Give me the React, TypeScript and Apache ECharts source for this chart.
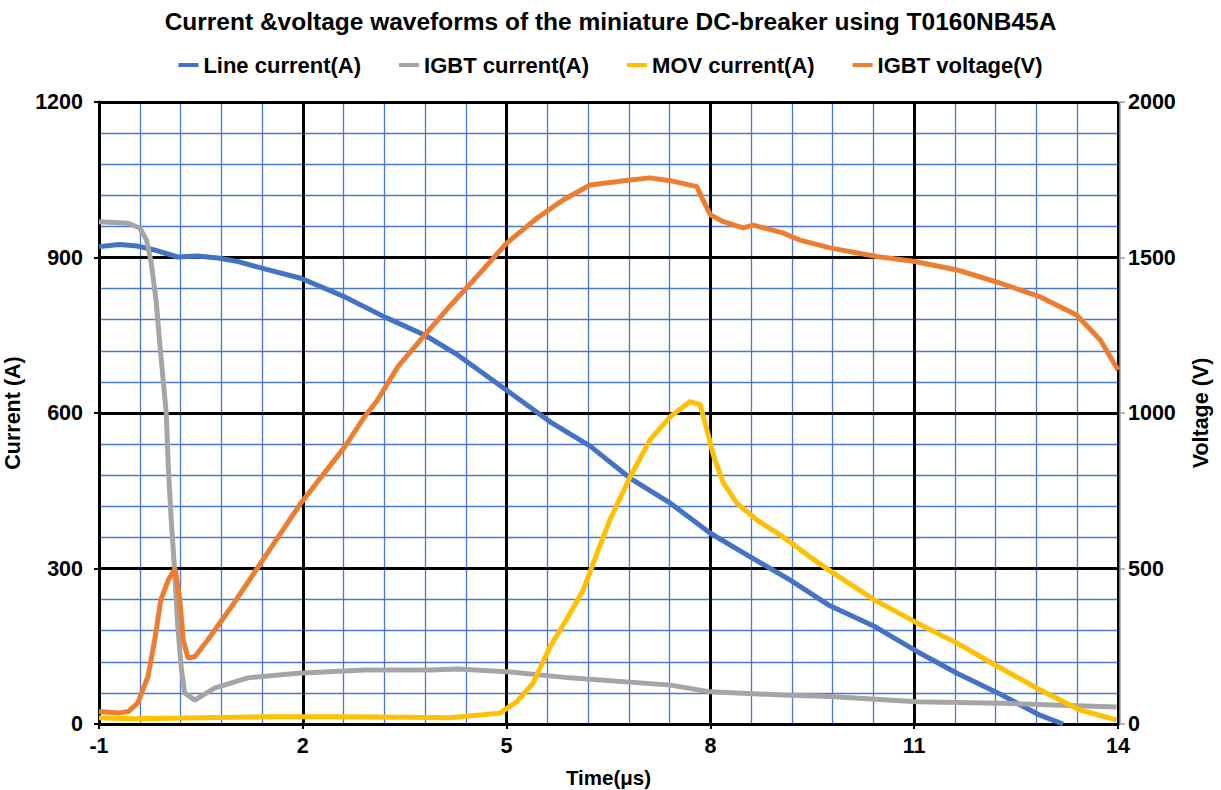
import React, { useEffect, useRef } from "react";
import * as echarts from "echarts";

const titleText = "Current &voltage waveforms of the miniature DC-breaker using T0160NB45A";
const seriesNames = ["Line current(A)", "IGBT current(A)", "MOV current(A)", "IGBT voltage(V)"];

const lineTime = [-1, -0.7, -0.43, -0.2, 0.16, 0.45, 0.75, 1.05, 1.38, 1.97, 2.62, 3.21, 3.8, 4.28, 5.0, 5.64, 6.23, 6.82, 7.41, 8.0, 8.58, 9.17, 9.76, 10.42, 11.04, 11.63, 12.23, 12.85, 13.19];
const lineCurrent = [921, 925, 922, 915, 901, 903, 899, 892, 880, 860, 824, 785, 750, 712, 644, 583, 536, 474, 426, 368, 323, 278, 228, 188, 140, 98, 60, 17, 0];

const igbtTime = [-1, -0.57, -0.4, -0.3, -0.23, -0.16, -0.11, -0.06, -0.01, 0.02, 0.06, 0.11, 0.16, 0.21, 0.26, 0.41, 0.7, 1.19, 1.93, 2.91, 3.89, 4.28, 5.0, 5.93, 7.41, 8.0, 9.07, 9.76, 11.04, 12.27, 13.98];
const igbtCurrent = [969, 966, 957, 934, 889, 818, 741, 670, 600, 496, 400, 303, 188, 110, 60, 46, 69, 89, 98, 104, 104, 106, 101, 89, 75, 62, 56, 53, 43, 40, 33];

const movTime = [-1, -0.5, 0.5, 1.5, 2.5, 3.5, 4.17, 4.9, 5.15, 5.39, 5.64, 5.88, 6.13, 6.33, 6.52, 6.82, 7.11, 7.41, 7.7, 7.85, 7.95, 8.05, 8.19, 8.39, 8.68, 9.07, 9.47, 9.81, 10.42, 11.04, 11.63, 12.23, 12.85, 13.44, 13.98];
const movCurrent = [12, 10, 12, 14, 14, 13, 12, 21, 43, 79, 149, 201, 259, 329, 394, 477, 548, 593, 622, 616, 567, 516, 465, 426, 394, 361, 322, 291, 239, 195, 156, 111, 66, 27, 8];

const voltTime = [-1, -0.72, -0.57, -0.43, -0.28, -0.18, -0.09, 0.02, 0.12, 0.19, 0.24, 0.31, 0.41, 0.6, 0.95, 1.38, 1.97, 2.62, 2.91, 3.1, 3.4, 3.8, 4.17, 4.65, 5.0, 5.45, 5.83, 6.23, 6.82, 7.11, 7.41, 7.8, 7.89, 8.0, 8.19, 8.48, 8.63, 9.07, 9.32, 9.76, 10.45, 11.01, 11.63, 12.26, 12.85, 13.39, 13.74, 14.0];
const igbtVoltage = [40, 35, 40, 67, 152, 270, 399, 463, 500, 399, 270, 212, 216, 270, 377, 517, 710, 892, 988, 1042, 1149, 1252, 1345, 1460, 1546, 1627, 1685, 1733, 1749, 1756, 1747, 1728, 1685, 1637, 1615, 1595, 1604, 1579, 1556, 1531, 1503, 1487, 1460, 1418, 1374, 1315, 1235, 1138];

const pairs = (xs: number[], ys: number[]) => xs.map((x, i) => [x, ys[i]]);

export default function App() {
  const ref = useRef<HTMLDivElement>(null);
  useEffect(() => {
    if (!ref.current) return;
    const chart = echarts.init(ref.current, null, { renderer: "svg" });
    const font = "Liberation Sans, Arial, sans-serif";
    const lbl = { color: "#000", fontWeight: "bold" as const, fontSize: 21.5, fontFamily: font };
    const plain = (v: number) => String(v);
    const blue = "#4a78cf";
    chart.setOption({
      animation: false,
      backgroundColor: "#fff",
      title: {
        text: titleText,
        left: "center",
        top: 4,
        textStyle: { color: "#000", fontWeight: "bold", fontSize: 24.5, fontFamily: font },
      },
      legend: {
        top: 49,
        left: "center",
        itemGap: 38,
        itemWidth: 20,
        itemHeight: 4,
        icon: "rect",
        data: seriesNames,
        textStyle: { color: "#000", fontWeight: "bold", fontSize: 22, fontFamily: font },
      },
      grid: { left: 99, right: 103, top: 102, bottom: 66, containLabel: false, outerBoundsMode: "none" },
      xAxis: [
        {
          type: "value",
          min: -1,
          max: 14,
          interval: 3,
          z: 1,
          name: "Time(μs)",
          nameLocation: "middle",
          nameGap: 43,
          nameTextStyle: { ...lbl, fontSize: 20.5 },
          axisLine: { onZero: false, lineStyle: { color: "#000", width: 3 } },
          axisTick: { show: true, length: 5, lineStyle: { color: "#000", width: 2 } },
          axisLabel: { ...lbl, margin: 11, formatter: plain },
          splitLine: { show: true, lineStyle: { color: "#000", width: 3 } },
        },
        {
          type: "value",
          min: -1,
          max: 14,
          interval: 0.6,
          z: -1,
          position: "bottom",
          axisLine: { show: false },
          axisTick: { show: false },
          axisLabel: { show: false },
          splitLine: { show: true, lineStyle: { color: blue, width: 1.3 } },
        },
      ],
      yAxis: [
        {
          type: "value",
          min: 0,
          max: 1200,
          interval: 300,
          z: 1,
          name: "Current (A)",
          nameLocation: "middle",
          nameGap: 60,
          nameRotate: 90,
          nameTextStyle: { ...lbl },
          axisLine: { show: true, onZero: false, lineStyle: { color: "#000", width: 3 } },
          axisTick: { show: true, length: 5, lineStyle: { color: "#000", width: 2 } },
          axisLabel: { ...lbl, margin: 16, formatter: plain },
          splitLine: { show: true, lineStyle: { color: "#000", width: 3 } },
        },
        {
          type: "value",
          min: 0,
          max: 2000,
          interval: 500,
          position: "right",
          offset: 2,
          z: 1,
          name: "Voltage (V)",
          nameLocation: "middle",
          nameGap: 70,
          nameRotate: 90,
          nameTextStyle: { ...lbl },
          axisLine: { show: true, onZero: false, lineStyle: { color: "#a0a0a0", width: 1.5 } },
          axisTick: { show: true, length: 5, lineStyle: { color: "#a0a0a0", width: 1.5 } },
          axisLabel: { ...lbl, margin: 8, formatter: plain },
          splitLine: { show: false },
        },
        {
          type: "value",
          min: 0,
          max: 1200,
          interval: 60,
          position: "left",
          z: -1,
          axisLine: { show: false },
          axisTick: { show: false },
          axisLabel: { show: false },
          splitLine: { show: true, lineStyle: { color: blue, width: 1.3 } },
        },
      ],
      series: [
        {
          name: seriesNames[0], type: "line", xAxisIndex: 0, yAxisIndex: 0, showSymbol: false, symbol: "none", z: 3,
          data: pairs(lineTime, lineCurrent), lineStyle: { color: "#4472C4", width: 5 }, itemStyle: { color: "#4472C4" },
        },
        {
          name: seriesNames[1], type: "line", xAxisIndex: 0, yAxisIndex: 0, showSymbol: false, symbol: "none", z: 3,
          data: pairs(igbtTime, igbtCurrent), lineStyle: { color: "#A5A5A5", width: 5 }, itemStyle: { color: "#A5A5A5" },
        },
        {
          name: seriesNames[2], type: "line", xAxisIndex: 0, yAxisIndex: 0, showSymbol: false, symbol: "none", z: 3,
          data: pairs(movTime, movCurrent), lineStyle: { color: "#FFC000", width: 5 }, itemStyle: { color: "#FFC000" },
        },
        {
          name: seriesNames[3], type: "line", xAxisIndex: 0, yAxisIndex: 1, showSymbol: false, symbol: "none", z: 3,
          data: pairs(voltTime, igbtVoltage), lineStyle: { color: "#ED7D31", width: 5 }, itemStyle: { color: "#ED7D31" },
        },
      ],
    });
    return () => chart.dispose();
  }, []);
  return (
    <div
      ref={ref}
      style={{ position: "absolute", left: 0, top: 0, width: 1221, height: 790, background: "#fff" }}
    />
  );
}
